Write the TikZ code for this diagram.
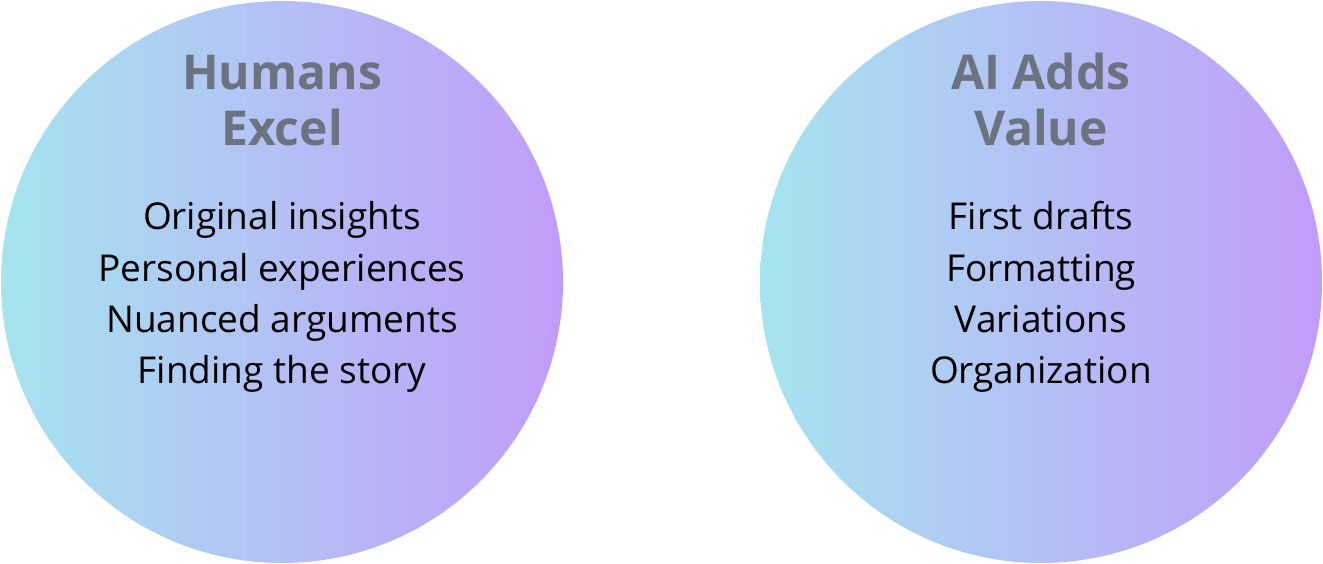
\documentclass[tikz,border=0pt]{standalone}
\usepackage{fontspec}
\setmainfont{Open Sans}
\usetikzlibrary{positioning}
\definecolor{blobleft}{RGB}{166,228,239}
\definecolor{blobmid}{RGB}{181,190,244}
\definecolor{blobright}{RGB}{193,156,250}
\definecolor{headgray}{RGB}{107,114,128}
\begin{document}
\begin{tikzpicture}[x=1pt, y=-1pt,
  blob/.style={circle, minimum size=562pt, inner sep=0pt, left color=blobleft, middle color=blobmid, right color=blobright},
  head/.style={anchor=base, text=headgray, font=\fontsize{48}{56}\selectfont\bfseries},
  item/.style={anchor=base, text=black, font=\fontsize{37}{44}\selectfont}]
  \useasboundingbox (0,0) rectangle (1323,564);
  % left circle
  \node[blob] (hum) at (282,282) {};
  \node[head] (hum1) at (282,90) {Humans};
  \node[head] (hum2) at (282,146) {Excel};
  \node[item] (h1) at (282,230) {Original insights};
  \node[item] (h2) at (282,281) {Personal experiences};
  \node[item] (h3) at (282,332) {Nuanced arguments};
  \node[item] (h4) at (282,383) {Finding the story};
  % right circle
  \node[blob] (ai) at (1041,282) {};
  \node[head] (ai1) at (1041,90) {AI Adds};
  \node[head] (ai2) at (1041,146) {Value};
  \node[item] (a1) at (1041,230) {First drafts};
  \node[item] (a2) at (1041,281) {Formatting};
  \node[item] (a3) at (1041,332) {Variations};
  \node[item] (a4) at (1041,383) {Organization};
\end{tikzpicture}
\end{document}
